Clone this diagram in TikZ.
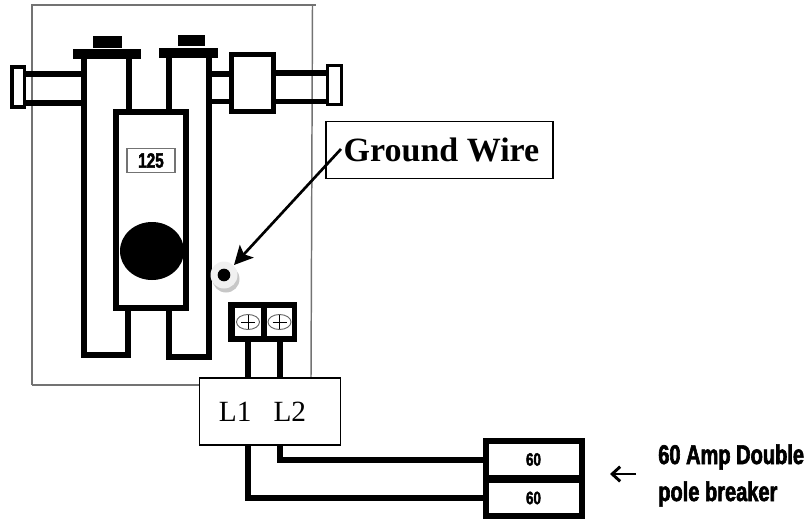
\documentclass[tikz,border=0pt]{standalone}
\usepackage{fontspec}
\setmainfont{Liberation Serif}
\newfontfamily\heavyfont[FakeStretch=0.74,FakeBold=2.2]{Liberation Sans Bold}
\usetikzlibrary{arrows.meta,calc}
\tikzset{
  px/.style={x=0.75pt,y=-0.75pt},
  wall/.style={draw=black,line width=4.5pt,fill=white},
  bar/.style={fill=black,draw=none},
  wire/.style={draw=black,line width=4.5pt},
  casing/.style={draw=black!55,line width=1.1pt},
  tag/.style={draw=black,line width=1.1pt,fill=white,inner sep=0pt,align=center},
  slot/.style={draw=black,line width=4.5pt,fill=white,minimum width=72pt,minimum height=27.3pt,inner sep=0pt,font=\heavyfont\fontsize{13.5}{15}\selectfont},
  well/.style={draw=black,line width=4.5pt,fill=white,minimum width=20.5pt,minimum height=23.5pt,inner sep=0pt},
  screw/.style={draw=black!60,line width=.7pt,fill=white},
  heavytext/.style={font=\heavyfont\fontsize{20.3}{24}\selectfont,anchor=west,inner sep=0pt},
}
\begin{document}
\begin{tikzpicture}[px]
\useasboundingbox (0,0) rectangle (807,522);
% enclosure
\coordinate (casingTL) at (32,5);
\coordinate (casingTR) at (316,5);
\coordinate (casingBL) at (32,385);
\draw[casing] (casingBL) -- (casingTL) -- (casingTR);
\draw[casing] (312.5,5) -- (311,378);
\draw[casing] (casingBL) -- (200,385);
% left lug and bars
\fill[bar] (26,71) rectangle (84,77);
\fill[bar] (26,100) rectangle (84,105.5);
\draw[draw=black,line width=2.8pt,fill=white] (12,67) rectangle (24.5,107);
% right bars and lug
\fill[bar] (208,71) rectangle (232,77);
\fill[bar] (208,99) rectangle (232,104);
\fill[bar] (274,70) rectangle (328,76);
\fill[bar] (274,99) rectangle (328,103.5);
\draw[draw=black,line width=3.2pt,fill=white] (231.5,54.5) rectangle (273.5,111.5);
\draw[draw=black,line width=2.8pt,fill=white] (327.5,65.5) rectangle (341.5,104.5);
% tubes
\draw[wall,fill=white] (128.5,59) -- (128.5,112) (84,59) -- (84,354.5) -- (128,354.5) -- (128,308);
\draw[wall] (168.5,58) -- (168.5,112) (208.5,58) -- (208.5,357) -- (169,357) -- (169,308);
% caps
\fill[bar] (93,36) rectangle (122,48);
\fill[bar] (73,49) rectangle (141,59);
\fill[bar] (178,35) rectangle (205,46);
\fill[bar] (159,48) rectangle (218,58);
% centre body
\draw[wall] (116,112) rectangle (186,308);
\node[draw=black!55,line width=.8pt,fill=white,minimum width=36pt,minimum height=18.5pt,inner sep=0pt,font=\heavyfont\fontsize{15.5}{17}\selectfont] (rating) at (151,160.5) {125};
\fill[black] (152,251) ellipse [x radius=32,y radius=29];
\draw[wall,fill=none] (186,112) -- (186,308);
% ground lug
\fill[black!22] (226,279) circle (13.5);
\fill[black!6] (224,275) circle (13.5);
\node[circle,fill=black,minimum size=9.5pt,inner sep=0pt] (lug) at (224,275) {};
% terminal block
\fill[black] (228,302) rectangle (297,342);
\node[well,draw=none,minimum width=19.5pt,minimum height=21pt] (well1) at (248,322) {};
\node[well,draw=none,minimum width=19pt,minimum height=21pt] (well2) at (279.5,322) {};
\foreach \w in {well1,well2}{
  \draw[screw] (\w) ellipse [x radius=11.5,y radius=7.5];
  \draw[line width=.6pt] ($(\w)+(-7,0)$) -- ($(\w)+(7,0)$) ($(\w)+(0,-7)$) -- ($(\w)+(0,7)$);
}
% L1 L2 box
\node[tag,minimum width=105.5pt,minimum height=50.5pt,font=\fontsize{22}{24}\selectfont] (lbox) at (270,411.5) {L1\hspace{16.5pt}L2\hspace{11.2pt}};
% breaker
\node[slot] (brkA) at (533.5,459.5) {60};
\node[slot] (brkB) at (533.5,498) {60};
% wires
\draw[wire] (well1.south) -- (well1.south |- lbox.north);
\draw[wire] (well2.south) -- (well2.south |- lbox.north);
\draw[wire] (well2.south |- lbox.south) |- (brkA.west);
\draw[wire] (well1.south |- lbox.south) |- (brkB.west);
% ground wire label
\node[tag,minimum width=170pt,minimum height=43pt,font=\bfseries\fontsize{25.5}{28}\selectfont] (gw) at (439.5,150) {\hspace{3pt}Ground Wire};
\coordinate (gwTail) at (341,149);
\coordinate (gwTip) at (234,265);
\draw[line width=2pt,-{Stealth[length=14pt,width=14pt,inset=3pt]}] (gwTail) -- (gwTip);
% breaker label
\coordinate (noteTail) at (636,474);
\coordinate (noteTip) at (610,474);
\draw[line width=2.2pt,-{Straight Barb[length=6pt,width=11pt]}] (noteTail) -- (noteTip);
\node[heavytext] (noteA) at (658,457) {60 Amp Double};
\node[heavytext] (noteB) at (658,494) {pole breaker};
\end{tikzpicture}
\end{document}
